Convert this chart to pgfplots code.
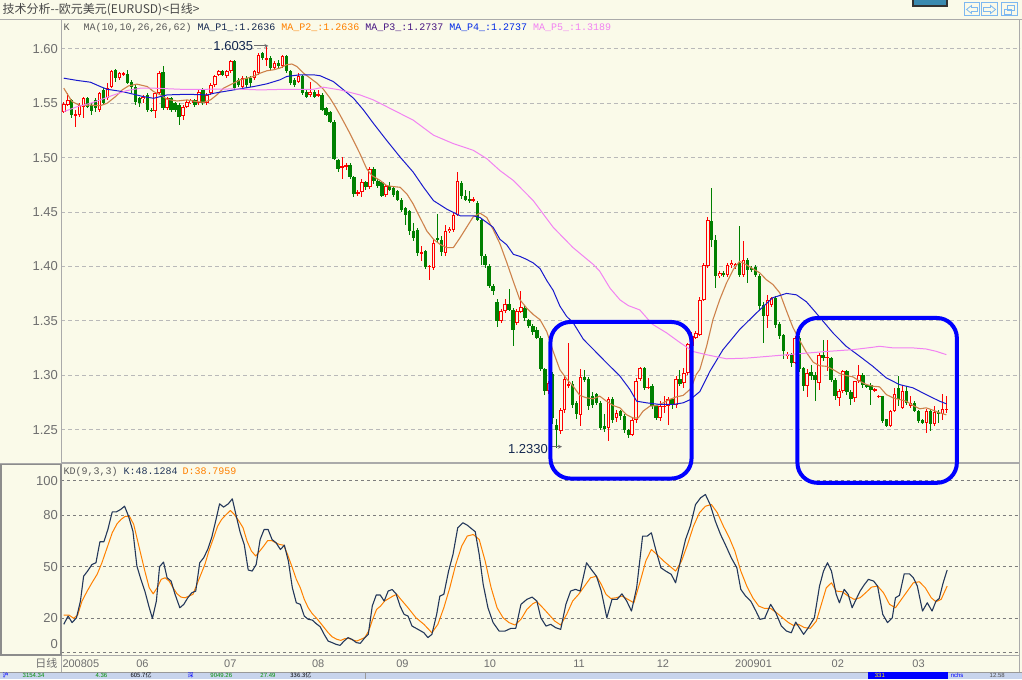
\documentclass[border=0pt]{standalone}
\usepackage{fontspec}
\setmainfont{Liberation Sans}
\newfontfamily\cjk{Noto Sans CJK SC}
\newfontfamily\mono{Liberation Mono}
\usepackage{pgfplots}
\usepackage{pgfplotstable}
\pgfplotsset{compat=1.18}
\definecolor{bg}{RGB}{250,250,233}
\definecolor{cred}{RGB}{255,0,0}
\definecolor{cgrn}{RGB}{0,128,0}
\definecolor{ma10}{RGB}{205,130,75}
\definecolor{ma26}{RGB}{25,25,205}
\definecolor{ma62}{RGB}{242,130,242}
\definecolor{kcol}{RGB}{35,55,90}
\definecolor{dcol}{RGB}{255,128,0}
\definecolor{axgray}{RGB}{170,170,170}
\definecolor{lblgray}{RGB}{110,110,110}
\definecolor{gridp}{RGB}{185,185,185}
\definecolor{gridk}{RGB}{125,125,125}
\definecolor{navy}{RGB}{20,40,80}
\definecolor{purp}{RGB}{70,20,130}
\definecolor{mablue}{RGB}{0,40,230}
\definecolor{iconb}{RGB}{125,184,240}
\definecolor{btn}{RGB}{58,138,176}
\definecolor{sbar}{RGB}{200,212,236}
\definecolor{sgreen}{RGB}{0,140,0}

\pgfplotstableread{
i o h l c
0 1.5423 1.5515 1.5413 1.5493
1 1.5484 1.5592 1.5475 1.5531
3 1.5389 1.5438 1.5284 1.5401
4 1.5392 1.5500 1.5376 1.5484
5 1.5469 1.5561 1.5361 1.5546
9 1.5438 1.5608 1.5423 1.5592
11 1.5546 1.5685 1.5531 1.5645
12 1.5648 1.5802 1.5639 1.5793
14 1.5731 1.5784 1.5716 1.5777
15 1.5768 1.5784 1.5753 1.5777
20 1.5537 1.5577 1.5500 1.5561
23 1.5429 1.5608 1.5361 1.5598
24 1.5592 1.5793 1.5577 1.5777
26 1.5453 1.5561 1.5438 1.5546
30 1.5382 1.5484 1.5345 1.5469
31 1.5469 1.5531 1.5453 1.5515
32 1.5500 1.5543 1.5490 1.5531
34 1.5500 1.5623 1.5484 1.5608
36 1.5500 1.5592 1.5484 1.5577
37 1.5592 1.5685 1.5577 1.5669
38 1.5669 1.5762 1.5654 1.5747
39 1.5762 1.5808 1.5753 1.5793
41 1.5747 1.5808 1.5731 1.5793
42 1.5793 1.5901 1.5777 1.5885
45 1.5654 1.5747 1.5639 1.5731
48 1.5731 1.5808 1.5716 1.5793
49 1.5777 1.5963 1.5762 1.5947
51 1.5907 1.6035 1.5839 1.5916
53 1.5824 1.5885 1.5808 1.5870
55 1.5839 1.5947 1.5824 1.5932
59 1.5700 1.5777 1.5685 1.5747
62 1.5577 1.5700 1.5561 1.5608
64 1.5574 1.5623 1.5555 1.5583
70 1.4907 1.5006 1.4805 1.4920
71 1.4920 1.4950 1.4890 1.4930
74 1.4670 1.4700 1.4650 1.4682
75 1.4682 1.4800 1.4640 1.4774
77 1.4728 1.4910 1.4710 1.4898
81 1.4659 1.4760 1.4640 1.4735
90 1.4120 1.4190 1.4050 1.4130
92 1.3995 1.4010 1.3880 1.4005
93 1.3986 1.4240 1.3970 1.4216
96 1.4124 1.4380 1.4100 1.4323
97 1.4323 1.4360 1.4310 1.4344
98 1.4338 1.4500 1.4320 1.4475
99 1.4475 1.4870 1.4460 1.4781
103 1.4605 1.4640 1.4590 1.4616
110 1.3497 1.3610 1.3480 1.3589
111 1.3589 1.3700 1.3570 1.3659
114 1.3482 1.3610 1.3460 1.3589
115 1.3580 1.3772 1.3570 1.3625
122 1.2854 1.2950 1.2830 1.2930
125 1.2484 1.2700 1.2460 1.2684
126 1.2684 1.3000 1.2650 1.2961
127 1.2900 1.3300 1.2880 1.2915
130 1.2638 1.3054 1.2530 1.2986
137 1.2515 1.2800 1.2392 1.2777
139 1.2607 1.2680 1.2570 1.2654
143 1.2454 1.2620 1.2440 1.2592
144 1.2592 1.2970 1.2560 1.2946
145 1.2961 1.3080 1.2950 1.3069
147 1.2884 1.2970 1.2870 1.2894
150 1.2607 1.2760 1.2580 1.2715
151 1.2710 1.2810 1.2650 1.2721
152 1.2715 1.2800 1.2546 1.2777
154 1.2730 1.2990 1.2700 1.2961
156 1.2924 1.3070 1.2880 1.3023
157 1.3023 1.3300 1.3000 1.3290
158 1.3269 1.3400 1.3250 1.3361
159 1.3346 1.3410 1.3330 1.3392
160 1.3374 1.3720 1.3360 1.3695
161 1.3695 1.4030 1.3680 1.4016
162 1.4001 1.4450 1.3990 1.4429
165 1.3909 1.3960 1.3890 1.3940
167 1.3925 1.4030 1.3900 1.4016
168 1.4010 1.4060 1.3990 1.4032
169 1.4001 1.4030 1.3980 1.4023
171 1.3925 1.4230 1.3900 1.4062
177 1.3543 1.3740 1.3435 1.3695
178 1.3650 1.3720 1.3630 1.3711
182 1.3175 1.3210 1.3150 1.3197
184 1.3114 1.3360 1.3100 1.3344
187 1.2899 1.3060 1.2800 1.3021
190 1.2930 1.3200 1.2860 1.3189
192 1.3159 1.3320 1.3040 1.3168
195 1.2792 1.2870 1.2715 1.2853
196 1.2853 1.3050 1.2840 1.3037
199 1.2792 1.2950 1.2750 1.2945
200 1.2945 1.3098 1.2930 1.3006
204 1.2862 1.2880 1.2850 1.2874
205 1.2801 1.2820 1.2790 1.2813
208 1.2532 1.2680 1.2520 1.2670
209 1.2670 1.2884 1.2660 1.2823
211 1.2700 1.2900 1.2690 1.2853
213 1.2716 1.2810 1.2700 1.2746
217 1.2563 1.2690 1.2471 1.2670
219 1.2547 1.2720 1.2530 1.2660
221 1.2639 1.2823 1.2590 1.2685
222 1.2679 1.2810 1.2650 1.2691
}\up

\pgfplotstableread{
i o h l c
2 1.5531 1.5537 1.5361 1.5392
6 1.5546 1.5561 1.5453 1.5469
7 1.5484 1.5500 1.5392 1.5432
8 1.5531 1.5546 1.5423 1.5453
10 1.5623 1.5639 1.5484 1.5500
13 1.5802 1.5814 1.5700 1.5731
16 1.5768 1.5808 1.5679 1.5685
17 1.5700 1.5710 1.5592 1.5654
18 1.5654 1.5669 1.5484 1.5515
19 1.5546 1.5561 1.5469 1.5500
21 1.5577 1.5592 1.5423 1.5438
22 1.5440 1.5453 1.5423 1.5429
25 1.5787 1.5845 1.5438 1.5453
27 1.5546 1.5561 1.5423 1.5438
28 1.5500 1.5515 1.5423 1.5438
29 1.5484 1.5500 1.5299 1.5376
33 1.5531 1.5543 1.5469 1.5484
35 1.5623 1.5639 1.5484 1.5500
40 1.5793 1.5802 1.5747 1.5762
43 1.5885 1.5901 1.5623 1.5639
44 1.5716 1.5731 1.5654 1.5669
46 1.5731 1.5747 1.5639 1.5669
47 1.5731 1.5747 1.5654 1.5685
50 1.5963 1.5969 1.5901 1.5916
52 1.5916 1.5932 1.5808 1.5824
54 1.5870 1.5901 1.5824 1.5839
56 1.5938 1.5947 1.5777 1.5793
57 1.5793 1.5808 1.5669 1.5685
58 1.5716 1.5731 1.5654 1.5669
60 1.5747 1.5762 1.5577 1.5592
61 1.5608 1.5623 1.5546 1.5561
63 1.5608 1.5623 1.5546 1.5561
65 1.5577 1.5592 1.5432 1.5438
66 1.5453 1.5469 1.5382 1.5392
67 1.5423 1.5432 1.5315 1.5330
68 1.5330 1.5345 1.4981 1.4991
69 1.4975 1.4991 1.4867 1.4898
72 1.4929 1.4950 1.4800 1.4821
73 1.4821 1.4830 1.4640 1.4667
76 1.4774 1.4790 1.4700 1.4728
78 1.4898 1.4910 1.4760 1.4790
79 1.4790 1.4800 1.4720 1.4744
80 1.4774 1.4790 1.4640 1.4651
82 1.4735 1.4780 1.4690 1.4705
83 1.4720 1.4740 1.4640 1.4659
84 1.4690 1.4700 1.4600 1.4613
85 1.4613 1.4630 1.4500 1.4521
86 1.4537 1.4550 1.4384 1.4475
87 1.4506 1.4520 1.4290 1.4323
88 1.4323 1.4400 1.4230 1.4261
89 1.4332 1.4350 1.4100 1.4124
91 1.4139 1.4150 1.3980 1.3995
94 1.4261 1.4485 1.4220 1.4246
95 1.4246 1.4280 1.4100 1.4130
100 1.4766 1.4790 1.4620 1.4644
101 1.4644 1.4700 1.4600 1.4613
102 1.4620 1.4690 1.4580 1.4610
104 1.4582 1.4600 1.4420 1.4430
105 1.4430 1.4450 1.4010 1.4093
106 1.4093 1.4110 1.3990 1.4017
107 1.4007 1.4020 1.3800 1.3818
108 1.3824 1.3840 1.3740 1.3772
109 1.3671 1.3700 1.3440 1.3497
112 1.3659 1.3790 1.3590 1.3604
113 1.3604 1.3620 1.3268 1.3414
116 1.3619 1.3640 1.3500 1.3527
117 1.3506 1.3520 1.3430 1.3451
118 1.3457 1.3470 1.3370 1.3396
119 1.3414 1.3440 1.3330 1.3344
120 1.3344 1.3360 1.3040 1.3053
121 1.3054 1.3070 1.2820 1.2854
123 1.3007 1.3030 1.2550 1.2607
124 1.2546 1.2600 1.2330 1.2500
128 1.2915 1.2950 1.2700 1.2730
129 1.2746 1.2760 1.2600 1.2647
131 1.2986 1.3050 1.2940 1.2955
132 1.2961 1.2980 1.2680 1.2715
133 1.2807 1.2850 1.2700 1.2730
134 1.2823 1.2840 1.2730 1.2746
135 1.2746 1.2760 1.2500 1.2515
136 1.2530 1.2640 1.2480 1.2506
138 1.2777 1.2800 1.2560 1.2592
140 1.2669 1.2680 1.2590 1.2623
141 1.2623 1.2640 1.2470 1.2494
142 1.2494 1.2510 1.2420 1.2454
146 1.3069 1.3080 1.2860 1.2884
148 1.2900 1.2920 1.2690 1.2715
149 1.2715 1.2730 1.2590 1.2607
153 1.2777 1.2790 1.2690 1.2730
155 1.2961 1.3050 1.2900 1.2915
163 1.4414 1.4720 1.4180 1.4246
164 1.4246 1.4290 1.3800 1.3909
166 1.3940 1.3960 1.3900 1.3925
170 1.4032 1.4370 1.3900 1.3925
172 1.4062 1.4080 1.3850 1.3971
173 1.3982 1.4000 1.3950 1.3971
174 1.3995 1.4010 1.3900 1.3925
175 1.3909 1.3930 1.3600 1.3634
176 1.3650 1.3670 1.3300 1.3543
179 1.3711 1.3730 1.3430 1.3466
180 1.3475 1.3490 1.3330 1.3359
181 1.3368 1.3380 1.3145 1.3221
183 1.3191 1.3200 1.3080 1.3114
185 1.3344 1.3360 1.3030 1.3053
186 1.3067 1.3080 1.2853 1.2905
188 1.3027 1.3090 1.2960 1.2997
189 1.3006 1.3030 1.2761 1.2960
191 1.3189 1.3327 1.3130 1.3159
193 1.3159 1.3170 1.2940 1.2960
194 1.2960 1.2970 1.2770 1.2807
197 1.3037 1.3050 1.2820 1.2844
198 1.2844 1.2860 1.2722 1.2783
201 1.3006 1.3020 1.2880 1.2914
202 1.2914 1.2920 1.2880 1.2893
203 1.2914 1.2930 1.2730 1.2868
206 1.2807 1.2810 1.2560 1.2578
207 1.2593 1.2600 1.2520 1.2532
210 1.2884 1.2991 1.2720 1.2777
212 1.2853 1.2900 1.2730 1.2746
214 1.2746 1.2760 1.2660 1.2670
215 1.2670 1.2680 1.2560 1.2578
216 1.2587 1.2600 1.2550 1.2563
218 1.2670 1.2680 1.2490 1.2547
220 1.2660 1.2680 1.2560 1.2639
}\dn

\pgfplotsset{
  wick/.style={draw=none, mark=none, forget plot,
    error bars/.cd, y dir=both, y explicit, error mark=none,
    error bar style={draw=#1, line width=1pt, solid}},
  body/.style 2 args={draw=none, mark=none, forget plot,
    error bars/.cd, y dir=both, y explicit, error mark=none,
    error bar style={draw=#1, line width=#2, solid, line cap=butt}},
}

\begin{document}
\begin{tikzpicture}
\fill[bg] (0,0) rectangle (1022pt,680pt);

% ---------------- price panel ----------------
\begin{axis}[
  at={(61pt,217pt)}, anchor=south west,
  width=959pt, height=443pt, scale only axis,
  xmin=-0.58, xmax=240.4, ymin=1.2197, ymax=1.6266,
  axis line style={draw=axgray, line width=1pt},
  xtick=\empty,
  ytick={1.25,1.3,1.35,1.4,1.45,1.5,1.55,1.6},
  yticklabels={1.25,1.30,1.35,1.40,1.45,1.50,1.55,1.60},
  major tick length=0pt,
  tick label style={font=\fontsize{13}{13}\selectfont, text=lblgray},
  ymajorgrids,
  grid style={draw=gridp, line width=1pt, dash pattern=on 4pt off 3pt},
]
% wicks
\addplot[wick=cred] table[x=i, y expr={(\thisrow{h}+\thisrow{l})/2}, y error expr={(\thisrow{h}-\thisrow{l})/2}] {\up};
\addplot[wick=cgrn] table[x=i, y expr={(\thisrow{h}+\thisrow{l})/2}, y error expr={(\thisrow{h}-\thisrow{l})/2}] {\dn};
% bodies
\addplot[body={cgrn}{3.4pt}] table[x=i, y expr={(\thisrow{o}+\thisrow{c})/2}, y error expr={abs(\thisrow{o}-\thisrow{c})/2}] {\dn};
\addplot[body={cred}{3.6pt}] table[x=i, y expr={(\thisrow{o}+\thisrow{c})/2}, y error expr={abs(\thisrow{c}-\thisrow{o})/2}] {\up};
\addplot[body={bg}{1.6pt}] table[x=i, y expr={(\thisrow{o}+\thisrow{c})/2}, y error expr={max(abs(\thisrow{c}-\thisrow{o})/2-0.00092,0)}] {\up};

% MA10 (MA_P1 / MA_P2)
\addplot[ma10, line width=1.1pt, line join=round] coordinates {
(0,1.5639)(2.1,1.5515)(4.2,1.5478)(6.7,1.5484)(9.2,1.5478)(10.9,1.5500)(13.0,1.5561)(14.7,1.5623)(16.3,1.5660)(18.4,1.5676)(21.0,1.5654)(22.6,1.5608)(24.3,1.5577)(26.0,1.5537)(28.5,1.5521)(31.0,1.5531)(33.5,1.5515)(35.2,1.5509)(36.9,1.5531)(38.5,1.5577)(40.2,1.5639)(42.7,1.5685)(44.4,1.5716)(46.1,1.5731)(47.7,1.5747)(49.4,1.5777)(51.1,1.5799)(52.8,1.5808)(54.4,1.5824)(56.1,1.5855)(57.4,1.5861)(58.6,1.5839)(60.3,1.5777)(62.0,1.5731)(63.7,1.5685)(65.3,1.5629)(67.0,1.5546)(68.3,1.5469)(69.5,1.5392)(72.0,1.5222)(74.5,1.5037)(76.2,1.4898)(77.5,1.4836)(79.6,1.4790)(81.2,1.4744)(82.9,1.4734)(84.6,1.4728)(86.3,1.4667)(87.9,1.4574)(89.6,1.4450)(91.3,1.4327)(93.0,1.4250)(94.6,1.4204)(96.3,1.4173)(98.0,1.4173)(99.7,1.4265)(101.3,1.4358)(103.0,1.4457)(104.7,1.4490)(106.4,1.4450)(108.0,1.4340)(109.7,1.4210)(111.4,1.4040)(113.1,1.3860)(114.7,1.3696)(116.4,1.3619)(118.1,1.3558)(119.8,1.3510)(121.5,1.3400)(123.1,1.3220)(124.8,1.3050)(126.5,1.2965)(128.1,1.2900)(129.8,1.2814)(131.5,1.2792)(133.2,1.2783)(134.8,1.2808)(136.5,1.2761)(138.2,1.2721)(139.9,1.2700)(141.5,1.2638)(143.2,1.2607)(144.5,1.2607)(145.7,1.2669)(147.4,1.2715)(149.1,1.2721)(150.8,1.2746)(152.4,1.2777)(154.1,1.2801)(155.8,1.2814)(157.5,1.2869)(158.3,1.2930)(159.1,1.3007)(160.0,1.3053)(161.7,1.3267)(163.3,1.3512)(165.0,1.3695)(166.7,1.3848)(168.4,1.3971)(170.0,1.4047)(171.7,1.4016)(173.4,1.3977)(175.1,1.3940)(176.7,1.3879)(178.4,1.3833)(180.1,1.3757)(181.8,1.3590)(183.4,1.3440)(185.1,1.3320)(186.8,1.3210)(188.5,1.3120)(190.1,1.3087)(191.8,1.3082)(193.5,1.3052)(195.2,1.3015)(196.8,1.2997)(198.5,1.2985)(200.2,1.2945)(201.9,1.2914)(203.5,1.2899)(205.2,1.2893)(206.9,1.2822)(208.6,1.2792)(210.2,1.2777)(211.9,1.2761)(213.6,1.2722)(215.3,1.2691)(216.9,1.2700)(218.6,1.2679)(220.3,1.2654)(222.0,1.2636)
};
% MA26 (MA_P3 / MA_P4)
\addplot[ma26, line width=1pt, line join=round] coordinates {
(0,1.5731)(3.4,1.5710)(6.7,1.5694)(9.2,1.5654)(10.9,1.5629)(14.7,1.5608)(17.6,1.5583)(20.1,1.5561)(22.6,1.5546)(26.0,1.5577)(31.0,1.5583)(36.0,1.5577)(37.7,1.5592)(42.7,1.5623)(47.8,1.5654)(51.1,1.5679)(54.4,1.5716)(56.1,1.5747)(59.5,1.5762)(62.8,1.5762)(64.5,1.5753)(67.8,1.5700)(70.4,1.5623)(72.9,1.5546)(75.4,1.5438)(77.9,1.5315)(81.2,1.5160)(84.6,1.5006)(87.9,1.4867)(90.5,1.4728)(93.0,1.4605)(96.3,1.4528)(99.7,1.4466)(103.0,1.4466)(104.7,1.4450)(106.4,1.4404)(108.0,1.4360)(109.7,1.4250)(111.4,1.4200)(113.1,1.4111)(114.7,1.4093)(116.4,1.4065)(118.1,1.4032)(119.8,1.3980)(121.5,1.3870)(123.1,1.3780)(124.8,1.3635)(126.5,1.3540)(128.1,1.3484)(130.7,1.3330)(133.2,1.3238)(136.5,1.3115)(139.9,1.2992)(142.4,1.2869)(144.1,1.2761)(146.6,1.2746)(149.9,1.2731)(153.3,1.2731)(155.8,1.2746)(157.5,1.2774)(160.0,1.2850)(162.5,1.3034)(165.8,1.3234)(170.0,1.3420)(174.2,1.3571)(178.3,1.3712)(181.8,1.3752)(184.3,1.3739)(186.8,1.3675)(188.5,1.3604)(190.1,1.3535)(193.5,1.3388)(196.8,1.3266)(200.2,1.3174)(203.5,1.3082)(206.9,1.2975)(210.2,1.2914)(213.6,1.2884)(216.9,1.2822)(220.3,1.2761)(222.0,1.2737)
};
% MA62 (MA_P5)
\addplot[ma62, line width=1pt, line join=round] coordinates {
(0,1.5423)(3.4,1.5469)(6.7,1.5500)(9.2,1.5531)(12.6,1.5577)(15.9,1.5617)(19.3,1.5639)(22.6,1.5639)(29.3,1.5629)(36.0,1.5629)(42.7,1.5632)(49.4,1.5623)(56.1,1.5629)(62.8,1.5629)(65.3,1.5648)(69.5,1.5623)(74.5,1.5577)(77.9,1.5531)(82.9,1.5438)(87.9,1.5345)(93.0,1.5207)(98.0,1.5129)(103.0,1.5068)(106.4,1.4991)(109.7,1.4882)(113.1,1.4790)(118.1,1.4605)(123.1,1.4360)(128.1,1.4173)(133.2,1.4018)(134.8,1.3957)(137.4,1.3800)(139.9,1.3693)(142.0,1.3640)(144.9,1.3600)(148.0,1.3470)(151.6,1.3390)(155.0,1.3300)(158.3,1.3218)(161.7,1.3188)(166.7,1.3151)(171.7,1.3157)(176.7,1.3172)(181.8,1.3188)(186.8,1.3203)(191.8,1.3218)(198.5,1.3235)(203.5,1.3257)(205.2,1.3266)(208.6,1.3251)(213.6,1.3251)(216.9,1.3241)(219.4,1.3220)(222.0,1.3189)
};

\node[anchor=east, inner sep=0pt, font=\fontsize{13}{13}\selectfont, text=navy] (hi) at (axis cs:47.7,1.6028) {1.6035};
\draw[-stealth, lblgray, line width=0.8pt] ([xshift=1pt]hi.east) -- ++(14pt,0pt);
\node[anchor=east, inner sep=0pt, font=\fontsize{13}{13}\selectfont, text=navy] (lo) at (axis cs:121.8,1.2324) {1.2330};
\draw[-stealth, lblgray, line width=0.8pt] ([xshift=1pt,yshift=2pt]lo.east) -- ++(13pt,0pt);
\end{axis}

% ---------------- KD panel ----------------
\begin{axis}[
  at={(61pt,24pt)}, anchor=south west,
  width=959pt, height=192pt, scale only axis,
  xmin=-0.58, xmax=240.4, ymin=-1.39, ymax=109.85,
  axis line style={draw=axgray, line width=1pt},
  ytick={0,20,50,80,100},
  yticklabels={{\raisebox{7.6pt}[7pt][0pt]{0}},20,50,80,100},
  xtick={4.3,19.8,41.9,64,85.2,107.2,129.6,150.7,173.5,194.7,215},
  xticklabels={200805,06,07,08,09,10,11,12,200901,02,03},
  major tick length=0pt,
  yticklabel style={font=\fontsize{13}{13}\selectfont, text=lblgray},
  xticklabel style={font=\fontsize{11}{11}\selectfont, text=lblgray, anchor=center, yshift=-8pt},
  ymajorgrids,
  grid style={draw=gridk, line width=1pt, dash pattern=on 3pt off 3pt},
]
\addplot[dcol, line width=1pt, line join=round] coordinates {
(0,22.0)(1.3,22.0)(2.5,20.1)(3.5,22.0)(4.6,30.1)(5.9,35.9)(7.1,40.7)(8.4,45.6)(9.6,52.3)(10.9,61.0)(12.2,69.7)(13.4,74.9)(14.4,77.4)(15.5,79.3)(16.6,79.0)(17.6,74.5)(18.4,66.8)(19.4,57.1)(20.4,47.5)(21.5,37.8)(22.5,34.3)(23.5,37.8)(24.5,42.7)(25.5,43.6)(26.5,41.7)(27.5,37.8)(28.5,34.3)(29.5,32.4)(30.5,32.0)(31.5,33.0)(32.5,34.0)(33.5,39.8)(34.5,45.6)(35.5,51.3)(36.5,59.1)(37.7,66.8)(38.7,73.5)(39.7,77.4)(40.7,79.9)(41.9,82.6)(42.9,80.3)(44.1,76.4)(45.1,72.6)(46.1,64.9)(47.2,59.1)(48.3,56.2)(49.3,59.1)(50.3,62.0)(51.3,65.2)(52.3,65.2)(53.3,63.9)(54.3,62.9)(55.3,62.5)(56.3,57.1)(57.5,49.4)(58.5,42.7)(59.5,37.8)(60.5,31.1)(61.5,26.2)(62.5,22.8)(63.5,20.4)(64.5,17.6)(65.5,14.7)(66.5,11.8)(67.5,9.4)(68.7,7.9)(69.7,7.3)(70.7,8.3)(71.7,8.5)(72.7,7.5)(73.7,6.9)(74.7,7.9)(75.7,8.9)(76.7,12.7)(77.7,19.5)(78.7,25.3)(79.7,27.2)(80.7,30.1)(81.8,31.6)(82.8,33.0)(83.8,34.0)(84.6,31.6)(86.6,26.2)(88.6,20.4)(90.6,16.6)(92.6,11.7)(94.1,16.6)(95.6,26.2)(97.1,37.8)(98.6,51.3)(100.1,62.0)(101.5,67.8)(103.0,68.7)(104.5,65.8)(106.0,53.3)(107.5,37.8)(109.0,26.2)(110.5,20.4)(112.0,17.6)(113.5,16.2)(115.0,19.5)(116.5,25.3)(118.0,28.6)(119.0,29.7)(120.5,26.2)(122.0,22.4)(123.5,18.5)(125.0,16.2)(126.5,22.4)(128.0,30.1)(129.5,34.0)(131.0,38.8)(132.5,43.6)(134.0,44.5)(135.2,39.8)(136.4,34.0)(137.6,31.6)(138.9,32.0)(140.4,33.0)(141.9,31.1)(143.4,29.1)(144.9,40.7)(146.4,53.3)(147.8,60.0)(149.2,57.1)(150.9,53.3)(152.4,50.4)(153.9,47.5)(155.4,53.3)(156.9,62.9)(158.4,73.6)(159.9,81.3)(161.4,85.1)(162.9,86.1)(164.4,81.3)(165.9,73.6)(167.4,66.8)(168.8,59.1)(170.3,47.5)(171.8,38.8)(173.3,32.0)(174.8,27.2)(176.3,25.8)(177.8,25.8)(179.3,23.3)(180.8,20.4)(182.3,17.6)(183.5,16.0)(184.8,16.6)(186.3,14.7)(187.8,14.3)(189.3,18.5)(190.3,26.2)(191.8,37.8)(193.1,40.7)(194.3,35.9)(195.8,35.5)(197.3,33.0)(198.8,31.1)(200.3,32.0)(201.7,34.9)(203.2,38.2)(204.7,38.8)(206.2,34.9)(207.7,28.2)(209.2,26.2)(210.7,31.1)(212.2,35.9)(213.7,40.7)(215.2,41.3)(216.7,37.8)(218.2,32.0)(219.4,29.7)(220.7,31.1)(222.2,38.8)
};
\addplot[kcol, line width=1.1pt, line join=round] coordinates {
(0,16.6)(1.1,21.4)(2.1,17.6)(3.2,20.4)(4.2,30.1)(5.0,44.5)(6.0,47.5)(7.1,51.3)(8.1,52.3)(9.1,64.5)(10.1,64.5)(11.1,71.6)(12.2,81.8)(13.2,81.8)(14.3,83.2)(15.3,85.1)(16.3,79.3)(17.4,70.6)(18.4,50.4)(19.4,42.7)(20.4,35.9)(21.4,27.2)(22.3,20.0)(23.3,30.1)(24.1,50.0)(25.1,52.7)(26.0,43.6)(27.0,41.7)(28.0,34.0)(29.2,26.2)(30.2,28.2)(31.2,32.0)(32.2,34.9)(33.2,35.9)(34.2,52.3)(35.2,55.2)(36.2,60.0)(37.2,66.8)(38.2,76.4)(39.2,86.5)(40.2,84.6)(41.4,86.5)(42.4,89.4)(43.4,79.3)(44.4,69.7)(45.4,62.9)(46.4,48.1)(47.4,47.5)(48.4,51.3)(49.4,65.8)(50.4,71.6)(51.4,71.6)(52.4,65.8)(53.4,63.9)(54.5,60.0)(55.5,62.5)(56.5,53.3)(57.5,37.8)(58.5,29.1)(59.5,28.2)(60.5,21.4)(61.5,19.5)(62.5,19.1)(63.5,17.0)(64.5,15.2)(65.5,10.8)(66.5,6.9)(67.5,6.0)(68.5,5.0)(69.5,4.4)(70.5,6.9)(71.5,8.9)(72.5,7.9)(73.6,6.0)(74.6,5.6)(75.6,8.5)(76.6,10.8)(77.6,27.2)(78.6,33.6)(79.6,33.6)(80.6,30.1)(81.6,35.9)(82.6,36.8)(83.6,34.3)(84.6,27.2)(85.6,22.4)(86.6,21.4)(87.6,15.6)(89.1,13.7)(90.6,11.7)(91.6,8.9)(92.6,10.8)(93.8,22.4)(94.6,33.0)(95.6,34.0)(96.8,47.5)(97.9,57.1)(99.1,72.6)(100.4,75.5)(101.5,74.1)(102.5,72.2)(103.5,70.3)(104.5,57.1)(105.5,39.8)(106.7,26.2)(108.0,17.6)(109.5,12.7)(111.0,12.7)(112.5,14.3)(113.7,14.3)(115.0,28.2)(116.5,31.1)(117.8,32.4)(119.0,30.1)(120.0,20.4)(121.3,15.6)(122.5,16.6)(123.7,14.7)(125.0,13.7)(126.3,28.2)(127.5,35.9)(128.7,36.9)(129.9,35.9)(131.5,52.3)(132.7,48.4)(134.0,44.5)(135.2,35.9)(136.6,20.4)(137.9,31.1)(139.2,31.1)(140.4,34.3)(141.6,30.1)(142.8,24.3)(144.1,37.8)(145.6,67.8)(146.8,67.8)(147.8,69.7)(149.0,59.1)(150.2,49.4)(151.4,47.5)(152.8,45.6)(153.9,40.7)(155.2,54.2)(156.4,65.8)(157.6,73.6)(158.9,86.0)(160.2,90.0)(161.4,91.9)(162.6,86.0)(163.9,76.4)(165.2,68.7)(166.4,62.9)(167.9,55.2)(169.3,49.4)(170.3,36.9)(171.5,33.0)(172.8,30.1)(174.1,24.3)(175.1,19.5)(176.3,20.1)(177.8,28.2)(179.1,23.3)(180.5,15.6)(181.8,12.7)(183.0,11.7)(184.1,17.9)(185.3,13.7)(186.1,10.8)(187.3,14.7)(188.8,20.4)(190.1,38.8)(191.1,47.5)(192.1,52.3)(193.1,47.5)(194.3,34.0)(195.1,29.1)(196.3,36.9)(197.3,34.0)(198.3,26.2)(199.3,31.1)(200.3,35.9)(201.3,39.4)(202.4,42.7)(203.7,41.7)(204.7,38.8)(206.0,22.4)(207.2,17.6)(208.4,20.4)(209.2,32.0)(210.2,33.4)(211.4,45.9)(212.7,45.9)(213.7,43.6)(214.7,38.8)(216.0,24.3)(217.2,29.1)(218.4,24.3)(219.4,30.1)(220.2,31.6)(221.2,40.7)(222.2,48.1)
};
\end{axis}

% ---------------- frame & decorations ----------------
\draw[axgray, line width=1pt] (0,660.5pt) -- (1022pt,660.5pt);
\draw[axgray, line width=1pt] (0,216pt) -- (61pt,216pt);
\draw[axgray, line width=1pt] (0,24pt) -- (61pt,24pt);
\draw[axgray, line width=1pt] (61pt,24pt) -- (61pt,7pt);
\draw[axgray, line width=1pt] (1020pt,24pt) -- (1020pt,7pt);
\draw[black!45, line width=1.6pt] (0.8pt,24.5pt) rectangle (60.5pt,215pt);

% title and legends
\node[anchor=west, inner sep=0pt, font=\cjk\fontsize{12}{12}\selectfont, text=black!72] at (2pt,670.5pt) {技术分析-{}-欧元美元(EURUSD)<日线>};
\begin{scope}[every node/.style={anchor=west, inner sep=0pt, font=\mono\fontsize{10}{10}\selectfont}]
\node[text=black!65] at (63pt,652.5pt) {K};
\node[text=black!65] at (83pt,652.5pt) {MA(10,10,26,26,62)};
\node[text=navy] at (197pt,652.5pt) {MA\_P1\_:1.2636};
\node[text=dcol] at (281pt,652.5pt) {MA\_P2\_:1.2636};
\node[text=purp] at (365pt,652.5pt) {MA\_P3\_:1.2737};
\node[text=mablue] at (449pt,652.5pt) {MA\_P4\_:1.2737};
\node[text=ma62] at (533pt,652.5pt) {MA\_P5\_:1.3189};
\node[text=black!65] at (63pt,208pt) {KD(9,3,3)};
\node[text=kcol] at (123pt,208pt) {K:48.1284};
\node[text=dcol] at (182pt,208pt) {D:38.7959};
\end{scope}
\node[inner sep=0pt, font=\cjk\fontsize{11}{11}\selectfont, text=lblgray] at (46pt,16pt) {日线};

% highlight boxes
\draw[blue, line width=4pt, rounded corners=20pt] (550.5pt,201pt) rectangle (691.7pt,357.7pt);
\draw[blue, line width=4pt, rounded corners=20pt] (797.7pt,196.7pt) rectangle (957.3pt,361.7pt);

% top-right controls
\fill[black!80] (912pt,672.5pt) rectangle (948pt,680pt);
\fill[btn] (914pt,674.5pt) rectangle (946pt,680pt);
\draw[iconb, line width=1pt] (965pt,664pt) rectangle (980pt,677pt);
\draw[iconb, line width=1pt] (982pt,664pt) rectangle (998pt,677pt);
\draw[iconb, line width=1pt] (1002pt,664pt) rectangle (1018pt,677pt);
\draw[iconb, line width=0.8pt] (967pt,670.5pt) -- (972pt,674.5pt) -- (972pt,672.5pt) -- (978pt,672.5pt) -- (978pt,668.5pt) -- (972pt,668.5pt) -- (972pt,666.5pt) -- cycle;
\draw[iconb, line width=0.8pt] (996pt,670.5pt) -- (991pt,674.5pt) -- (991pt,672.5pt) -- (984pt,672.5pt) -- (984pt,668.5pt) -- (991pt,668.5pt) -- (991pt,666.5pt) -- cycle;
\draw[iconb, line width=0.8pt] (1008pt,670pt) rectangle (1015pt,675pt);
\draw[iconb, line width=0.8pt] (1005pt,666pt) rectangle (1012pt,671pt);

% status bar
\fill[sbar] (0,0) rectangle (1022pt,7pt);
\draw[black!40, line width=0.8pt] (0,7pt) -- (1022pt,7pt);
\draw[black!40, line width=0.8pt] (365pt,0) -- (365pt,7pt);
\fill[blue] (868pt,0) rectangle (948pt,7pt);
\begin{scope}[every node/.style={anchor=base west, inner sep=0pt, font=\fontsize{6}{6}\selectfont}]
\node[text=blue, font=\cjk\fontsize{6}{6}\selectfont] at (2pt,1.6pt) {沪};
\node[text=sgreen] at (22pt,1.6pt) {3154.34};
\node[text=sgreen] at (95pt,1.6pt) {4.36};
\node[text=black, font=\cjk\fontsize{6}{6}\selectfont] at (130pt,1.6pt) {605.7亿};
\node[text=blue, font=\cjk\fontsize{6}{6}\selectfont] at (187pt,1.6pt) {深};
\node[text=sgreen] at (210pt,1.6pt) {9049.26};
\node[text=sgreen] at (260pt,1.6pt) {27.49};
\node[text=black, font=\cjk\fontsize{6}{6}\selectfont] at (290pt,1.6pt) {336.3亿};
\node[text=yellow] at (875pt,1.6pt) {331};
\node[text=blue] at (951pt,1.6pt) {nchs};
\node[text=black!70] at (990pt,1.6pt) {12.58};
\end{scope}
\end{tikzpicture}
\end{document}
